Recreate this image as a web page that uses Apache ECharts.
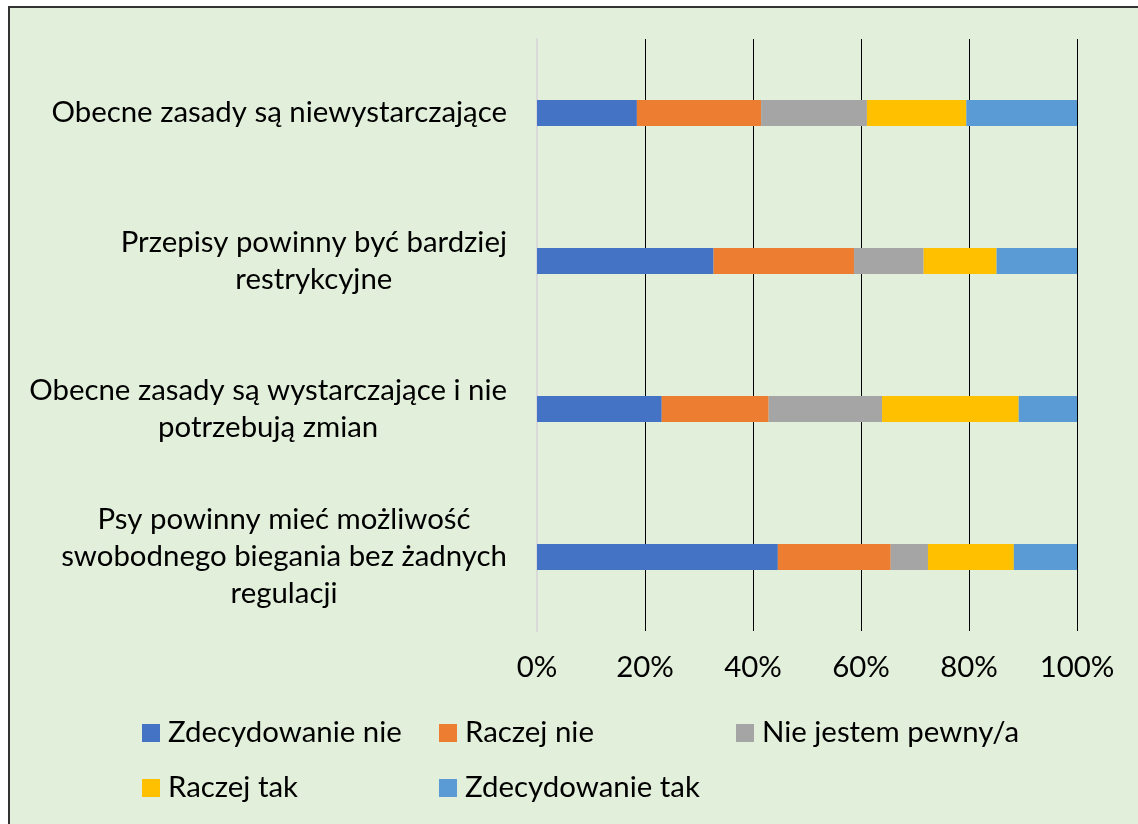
<!DOCTYPE html>
<html>
<head>
<meta charset="utf-8">
<script src="https://cdn.jsdelivr.net/npm/echarts@6/dist/echarts.min.js"></script>
<style>
  html, body { margin: 0; padding: 0; background: #fff; }
  #chart { width: 1138px; height: 824px; }
</style>
</head>
<body>
<div id="chart"></div>
<script>
// statements, top to bottom
const categories = [
  'Obecne zasady są niewystarczające',
  'Przepisy powinny być bardziej\nrestrykcyjne',
  'Obecne zasady są wystarczające i nie\npotrzebują zmian',
  'Psy powinny mieć możliwość\nswobodnego biegania bez żadnych\nregulacji'
];

const seriesNames = ['Zdecydowanie nie', 'Raczej nie', 'Nie jestem pewny/a', 'Raczej tak', 'Zdecydowanie tak'];
const colors = ['#4472C4', '#ED7D31', '#A5A5A5', '#FFC000', '#5B9BD5'];

// shares in %, one array per answer, same order as categories
const zdecydowanieNie = [18.5, 32.7, 23.1, 44.6];
const raczejNie       = [23.0, 26.0, 19.8, 20.9];
const nieJestemPewny  = [19.6, 12.9, 21.0, 6.9];
const raczejTak       = [18.4, 13.5, 25.3, 15.9];
const zdecydowanieTak = [20.5, 14.9, 10.8, 11.7];

const xTicks = [0, 20, 40, 60, 80, 100];

const FONT = 'Lato, "Noto Sans", sans-serif';
const FS = 29.4;

const values = [zdecydowanieNie, raczejNie, nieJestemPewny, raczejTak, zdecydowanieTak];
let series = [];
for (let i = 0; i < seriesNames.length; i++) {
  series.push({
    name: seriesNames[i],
    type: 'bar',
    stack: 'total',
    barWidth: 26,
    data: values[i],
    itemStyle: { color: colors[i] }
  });
}

const chart = echarts.init(document.getElementById('chart'));
chart.setOption({
  animation: false,
  backgroundColor: '#fff',
  textStyle: { fontFamily: FONT },
  graphic: [{
    type: 'rect',
    z: -10,
    silent: true,
    shape: { x: 9, y: 7, width: 1150, height: 840 },
    style: { fill: '#E2EFDA', stroke: '#333', lineWidth: 2 }
  }],
  grid: { left: 537, right: 61, top: 39, bottom: 193 },
  xAxis: {
    type: 'value',
    min: xTicks[0],
    max: xTicks[xTicks.length - 1],
    interval: xTicks[1] - xTicks[0],
    axisLine: { show: false },
    axisTick: { show: false },
    splitLine: { show: true, showMinLine: false, lineStyle: { color: '#000', width: 1 } },
    axisLabel: {
      formatter: '{value}%',
      color: '#000',
      fontSize: FS,
      fontFamily: FONT,
      margin: 22
    }
  },
  yAxis: {
    type: 'category',
    inverse: true,
    data: categories,
    axisLine: { show: true, lineStyle: { color: '#D9D9D9', width: 2 } },
    axisTick: { show: false },
    axisLabel: {
      margin: 30,
      align: 'right',
      formatter: function (value) {
        return value.split('\n').map(l => '{c|' + l + '}').join('\n');
      },
      rich: {
        c: { align: 'center', fontSize: FS, lineHeight: 37, color: '#000', fontFamily: FONT }
      }
    }
  },
  legend: {
    left: 137,
    top: 706,
    width: 920,
    icon: 'rect',
    itemWidth: 18,
    itemHeight: 18,
    itemGap: 11,
    textStyle: {
      color: '#000',
      fontSize: FS,
      fontFamily: FONT,
      width: 260,
      lineHeight: 44,
      padding: [0, 0, 0, 3]
    },
    data: seriesNames
  },
  series: series
});
</script>
</body>
</html>
